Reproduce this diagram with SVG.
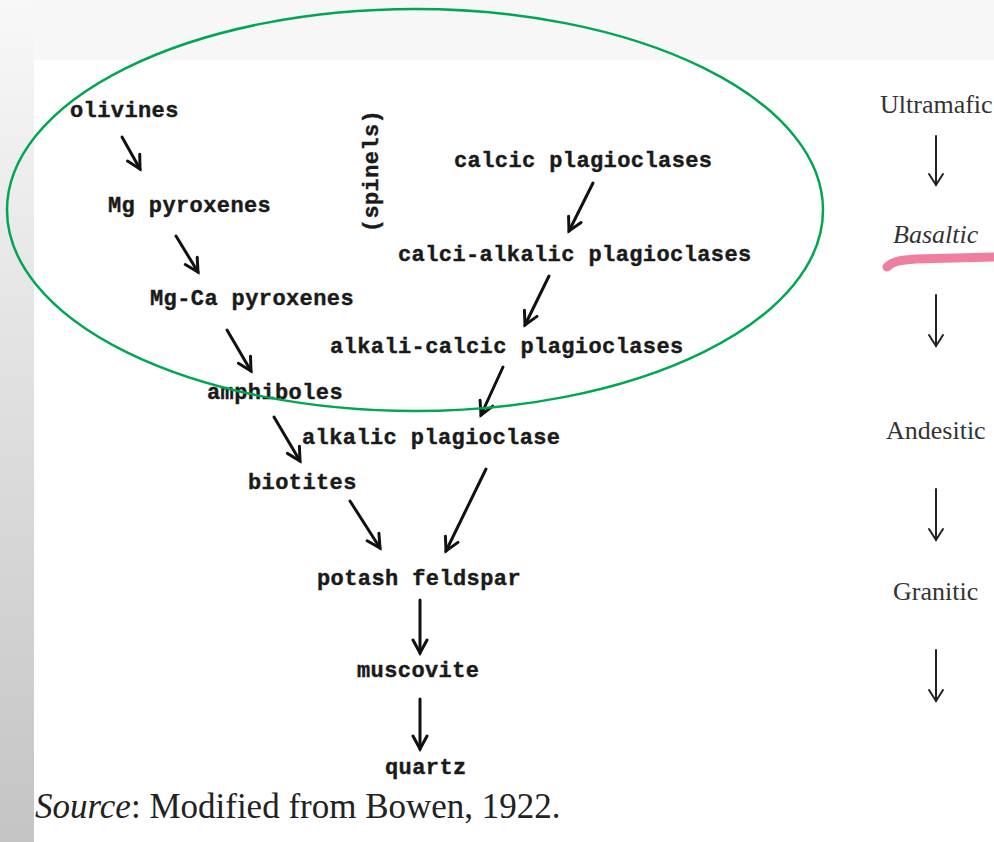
<svg xmlns="http://www.w3.org/2000/svg" width="994" height="842" viewBox="0 0 994 842">
<defs>
<linearGradient id="strip" x1="0" y1="0" x2="0" y2="1">
<stop offset="0" stop-color="#f8f8f8"/>
<stop offset="1" stop-color="#c4c4c4"/>
</linearGradient>
<marker id="ah" viewBox="-15 -10 18 20" markerWidth="18" markerHeight="20" refX="0" refY="0" orient="auto" markerUnits="userSpaceOnUse">
<path d="M-13,-7 L0,0 L-13,7" fill="none" stroke="#111" stroke-width="3" stroke-linejoin="miter" stroke-linecap="round"/>
</marker>
<marker id="ah2" viewBox="-13 -9 16 18" markerWidth="16" markerHeight="18" refX="0" refY="0" orient="auto" markerUnits="userSpaceOnUse">
<path d="M-11,-7 L0,0 L-11,7" fill="none" stroke="#222" stroke-width="2" stroke-linecap="round"/>
</marker>
</defs>
<style>
.m{font-family:"Liberation Mono","DejaVu Sans Mono",monospace;font-weight:bold;font-size:22px;letter-spacing:0.4px;fill:#1a1a1a;stroke:#1a1a1a;stroke-width:0.4px}
.s{font-family:"Liberation Serif","Times New Roman",serif;font-size:26px;fill:#333}
.a{fill:none;stroke:#111;stroke-width:3;stroke-linecap:round;marker-end:url(#ah)}
.b{fill:none;stroke:#222;stroke-width:2;stroke-linecap:round;marker-end:url(#ah2)}
</style>
<rect x="0" y="0" width="994" height="842" fill="#f7f7f7"/>
<rect x="0" y="0" width="34" height="842" fill="url(#strip)"/>
<rect x="34" y="60" width="960" height="782" fill="#ffffff"/>

<g id="olivines"><text class="m" x="70" y="117">olivines</text></g>
<g id="mg-pyroxenes"><text class="m" x="108" y="212">Mg pyroxenes</text></g>
<g id="mg-ca-pyroxenes"><text class="m" x="150" y="305">Mg-Ca pyroxenes</text></g>
<g id="amphiboles"><text class="m" x="207" y="399">amphiboles</text></g>
<g id="biotites"><text class="m" x="248" y="489">biotites</text></g>
<g id="spinels"><text class="m" transform="translate(371,171) rotate(-90)" x="0" y="7" text-anchor="middle">(spinels)</text></g>
<g id="calcic"><text class="m" x="454" y="167">calcic plagioclases</text></g>
<g id="calci-alkalic"><text class="m" x="398" y="261">calci-alkalic plagioclases</text></g>
<g id="alkali-calcic"><text class="m" x="330" y="353">alkali-calcic plagioclases</text></g>
<g id="alkalic"><text class="m" x="302" y="444">alkalic plagioclase</text></g>
<g id="potash"><text class="m" x="317" y="585">potash feldspar</text></g>
<g id="muscovite"><text class="m" x="357" y="677">muscovite</text></g>
<g id="quartz"><text class="m" x="385" y="774">quartz</text></g>

<g id="ultramafic"><text class="s" x="880" y="113">Ultramafic</text></g>
<g id="basaltic"><text class="s" x="893" y="243" font-style="italic">Basaltic</text></g>
<g id="andesitic"><text class="s" x="886" y="439">Andesitic</text></g>
<g id="granitic"><text class="s" x="893" y="600">Granitic</text></g>

<g id="connectors">
<line class="a" x1="122" y1="137" x2="140" y2="169"/>
<line class="a" x1="176" y1="236" x2="198" y2="272"/>
<line class="a" x1="227" y1="330" x2="251" y2="371"/>
<line class="a" x1="274" y1="417" x2="300" y2="461"/>
<line class="a" x1="350" y1="501" x2="380" y2="548"/>
<line class="a" x1="593" y1="183" x2="569" y2="231"/>
<line class="a" x1="549" y1="276" x2="525" y2="325"/>
<line class="a" x1="503" y1="367" x2="481" y2="415"/>
<line class="a" x1="486" y1="469" x2="446" y2="551"/>
<line class="a" x1="420" y1="600" x2="420" y2="653"/>
<line class="a" x1="420" y1="699" x2="420" y2="749"/>
<line class="b" x1="936" y1="136" x2="936" y2="185"/>
<line class="b" x1="936" y1="295" x2="936" y2="346"/>
<line class="b" x1="936" y1="489" x2="936" y2="540"/>
<line class="b" x1="936" y1="650" x2="936" y2="701"/>
</g>

<path d="M887,267 C893,261 901,260 916,259 L994,257" fill="none" stroke="#ee7fa0" stroke-width="9" stroke-linecap="round"/>
<ellipse cx="415" cy="210" rx="408" ry="201" fill="none" stroke="#00a651" stroke-width="2.5"/>
<text x="35" y="818" font-family="Liberation Serif, 'Times New Roman', serif" font-size="35" fill="#222"><tspan font-style="italic">Source</tspan>: Modified from Bowen, 1922.</text>
</svg>
